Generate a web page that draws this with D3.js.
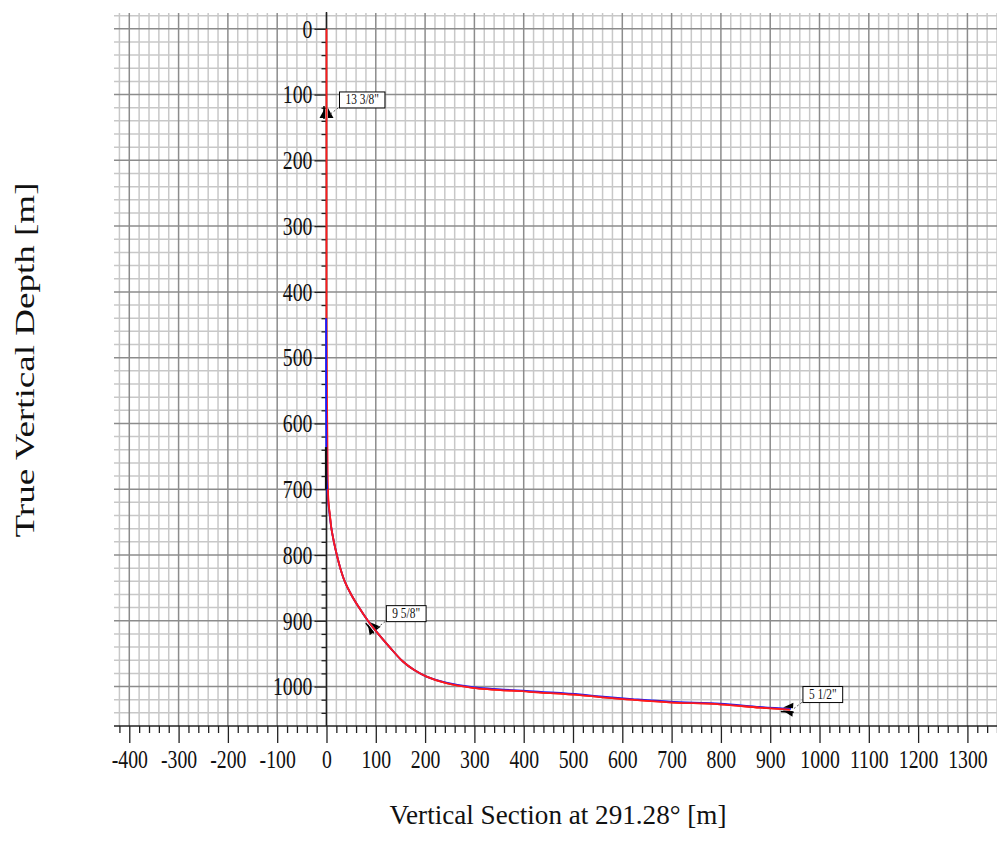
<!DOCTYPE html>
<html lang="en">
<head>
    <meta charset="UTF-8">
    <title>True Vertical Depth vs Vertical Section</title>
    <style>
        body { margin: 0; background: #fff; }
        svg text { font-family: "Liberation Serif", "Times New Roman", serif; fill: #111; }
        .grid-minor { stroke: #c8c8c8; stroke-width: 1.5px; }
        .grid-major { stroke: #8c8c8c; stroke-width: 1.5px; }
        .axis path { display: none; }
        .axis line { stroke: #222; stroke-width: 1.3px; }
        .plan { fill: none; stroke: #ff1a1a; stroke-width: 1.8px; }
        .actual { fill: none; stroke: #1a1aff; stroke-width: 1.8px; }
    </style>
    <script src="https://d3js.org/d3.v7.min.js"></script>
</head>
<body>
    <div id="chart"></div>
    <script>
        // planned well path (red)
        const planTvd = [0, 100, 200, 300, 400, 440, 500, 560, 600, 640, 680, 700, 720, 740, 760, 780, 800, 820, 840, 860, 880, 900, 920, 940, 962, 975, 985, 995, 1002, 1008, 1013, 1016, 1020, 1024, 1027, 1032, 1035];
        const planVs = [0, 0, 0, 0, 0, 0, 0.5, 1, 1.5, 2, 2.5, 3, 4, 7, 10, 15, 21, 28, 37, 50, 66, 84, 105, 128, 155, 178, 203, 243, 297, 412, 514, 555, 620, 696, 798, 879, 940];

        // actual survey (blue)
        const actTvd = [440, 500, 560, 600, 640, 680, 700, 720, 740, 760, 780, 800, 820, 840, 860, 880, 900, 920, 940, 962, 975, 985, 994, 1001, 1007, 1012, 1015, 1019, 1023, 1026, 1031, 1034];
        const actVs = [-0.8, -0.8, -0.8, -0.6, -0.4, 0, 1.5, 3.5, 6.5, 10, 15, 21, 28, 37, 50, 66, 84, 105, 128, 155, 178, 203, 243, 297, 412, 514, 555, 620, 696, 798, 879, 942];

        const darkTvd = [636, 700];
        const darkVs = [-1, -1];

        // casing shoes
        const casingNames = ['13 3/8"', '9 5/8"', '5 1/2"'];
        const casingTvd = [131, 912, 1035];
        const casingVs = [0, 95, 940];

        const xMajor = d3.range(-400, 1301, 100);
        const yMajor = d3.range(0, 1001, 100);

        const width = 997, height = 842;
        const plotLeft = 114, plotRight = 997, plotTop = 13, plotBottom = 726;
        const squeeze = 0.76;

        const svg = d3.select("#chart").append("svg")
            .attr("width", width)
            .attr("height", height);

        svg.append("rect").attr("width", width).attr("height", height).attr("fill", "#fff");

        const x = d3.scaleLinear().domain([-431, 1360]).range([plotLeft, plotRight]);
        const y = d3.scaleLinear().domain([-24, 1060]).range([plotTop, plotBottom]);

        // grid
        const grid = svg.append("g");
        const xs = d3.range(-420, 1361, 20);
        const ys = d3.range(-20, 1041, 20);
        grid.selectAll(".vx").data(xs).enter().append("line")
            .attr("class", d => d % 100 === 0 ? "grid-major" : "grid-minor")
            .attr("x1", d => x(d)).attr("x2", d => x(d))
            .attr("y1", plotTop).attr("y2", plotBottom);
        grid.selectAll(".hy").data(ys).enter().append("line")
            .attr("class", d => d % 100 === 0 ? "grid-major" : "grid-minor")
            .attr("x1", plotLeft).attr("x2", plotRight)
            .attr("y1", d => y(d)).attr("y2", d => y(d));
        // major lines on top of minor ones
        grid.selectAll(".grid-major").raise();

        // axes
        const xAxisG = svg.append("g").attr("class", "axis").attr("transform", `translate(0,${plotBottom})`);
        xAxisG.call(d3.axisBottom(x).tickValues(xs.filter(d => d % 100 !== 0)).tickSize(7).tickFormat(""));
        xAxisG.append("g").call(d3.axisBottom(x).tickValues(xMajor).tickSize(17).tickPadding(7).tickFormat(d => String(d)));
        svg.append("line").attr("x1", plotLeft).attr("x2", plotRight).attr("y1", plotBottom).attr("y2", plotBottom)
            .attr("stroke", "#222").attr("stroke-width", 1.5);

        const yAxisG = svg.append("g").attr("class", "axis").attr("transform", `translate(${x(0)},0)`);
        yAxisG.call(d3.axisLeft(y).tickValues(d3.range(20, 1041, 20).filter(d => d % 100 !== 0)).tickSize(5).tickFormat(""));
        yAxisG.append("g").call(d3.axisLeft(y).tickValues(yMajor).tickSize(12).tickPadding(2).tickFormat(d => String(d)));
        svg.append("line").attr("x1", x(0)).attr("x2", x(0)).attr("y1", plotTop - 1).attr("y2", plotBottom)
            .attr("stroke", "#222").attr("stroke-width", 1.5);

        svg.selectAll(".axis text")
            .style("font-family", '"Liberation Serif", serif')
            .style("font-size", "26px")
            .attr("fill", "#111")
            .attr("transform", `scale(${squeeze},1)`);
        yAxisG.selectAll("text").attr("x", -14 / squeeze);

        // well paths
        const line = d3.line().x(d => x(d[1])).y(d => y(d[0])).curve(d3.curveCatmullRom.alpha(0.5));
        const plan = planTvd.map((t, i) => [t, planVs[i]]);
        const act = actTvd.map((t, i) => [t, actVs[i]]);
        const dark = darkTvd.map((t, i) => [t, darkVs[i]]);

        svg.append("path").datum(plan).attr("class", "plan").attr("d", line);
        svg.append("path").datum(act).attr("class", "actual").attr("d", line);
        svg.append("path").datum(plan.filter(d => d[0] >= 700)).attr("class", "plan").attr("d", line);
        svg.append("path").datum(dark).attr("fill", "none").attr("stroke", "#111").attr("stroke-width", 2.2).attr("d", line);

        // casing shoe markers and labels
        function pathAngle(t) {
            let i = d3.bisectLeft(planTvd, t);
            i = Math.max(1, Math.min(i, planTvd.length - 1));
            const dx = x(planVs[i]) - x(planVs[i - 1]);
            const dy = y(planTvd[i]) - y(planTvd[i - 1]);
            return Math.atan2(dy, dx) * 180 / Math.PI - 90;
        }

        casingNames.forEach((name, i) => {
            const px = x(casingVs[i]), py = y(casingTvd[i]);
            const g = svg.append("g").attr("transform", `translate(${px},${py}) rotate(${pathAngle(casingTvd[i])})`);
            g.append("path").attr("d", "M-1.5,-7 L-1.5,3 L-7,3 Z").attr("fill", "#000");
            g.append("path").attr("d", "M1.5,-7 L1.5,3 L7,3 Z").attr("fill", "#000");
            g.append("line").attr("x1", -2.5).attr("x2", -2.5).attr("y1", -9).attr("y2", 4).attr("stroke", "#000").attr("stroke-width", 1.5);

            const bx = px + 13, by = py - 23;
            const label = svg.append("g").attr("transform", `translate(${bx},${by})`);
            const txt = label.append("text")
                .attr("x", 0).attr("y", 12.5)
                .style("font-size", "15px")
                .attr("transform", `scale(${squeeze},1)`)
                .text(name);
            const w = txt.node().getComputedTextLength() * squeeze + 12;
            txt.attr("x", 6 / squeeze);
            label.insert("rect", "text")
                .attr("width", w).attr("height", 16)
                .attr("fill", "#fff").attr("stroke", "#000").attr("stroke-width", 1);
            svg.append("line")
                .attr("x1", px + 4).attr("y1", py - 1)
                .attr("x2", bx).attr("y2", by + 15)
                .attr("stroke", "#555").attr("stroke-width", 1)
                .attr("stroke-dasharray", "2,2");
        });

        // axis titles
        svg.append("text")
            .attr("transform", "translate(34,360) rotate(-90)")
            .attr("text-anchor", "middle")
            .attr("textLength", 355)
            .attr("lengthAdjust", "spacingAndGlyphs")
            .style("font-size", "28px")
            .text("True Vertical Depth [m]");

        svg.append("text")
            .attr("x", 558).attr("y", 824)
            .attr("text-anchor", "middle")
            .attr("textLength", 337)
            .attr("lengthAdjust", "spacingAndGlyphs")
            .style("font-size", "28px")
            .text("Vertical Section at 291.28° [m]");
    </script>
</body>
</html>
